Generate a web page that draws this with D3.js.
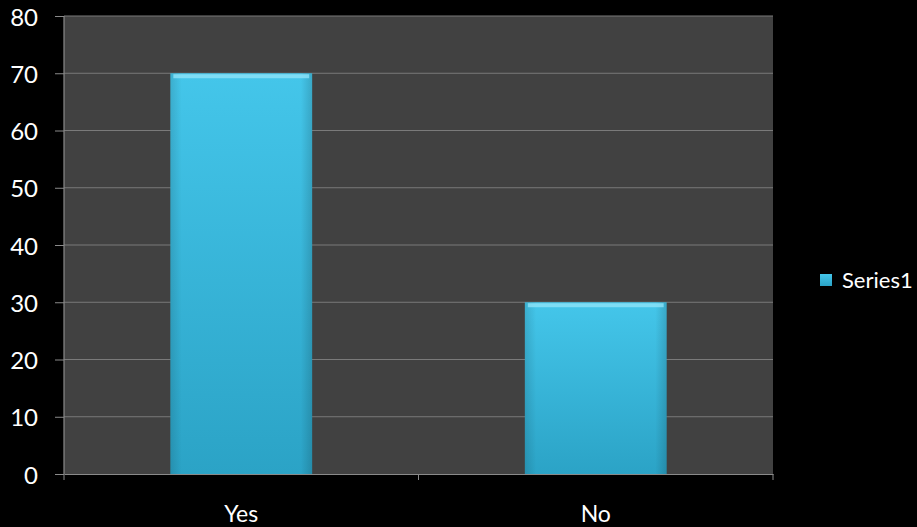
<!DOCTYPE html>
<html><head><meta charset="utf-8">
<script src="https://cdn.jsdelivr.net/npm/d3@7"></script>
<style>body{margin:0;background:#000;}svg{display:block;}</style>
</head><body>
<script>
const categories = ["Yes", "No"];
const series1 = [70, 30];
const yTicks = [0, 10, 20, 30, 40, 50, 60, 70, 80];
const seriesName = "Series1";

const W = 917, H = 527;
const m = {left: 64, right: 144, top: 16, bottom: 53};
const FONT = "Lato, 'Open Sans', sans-serif";
const svg = d3.select("body").append("svg").attr("width", W).attr("height", H);
svg.append("rect").attr("width", W).attr("height", H).attr("fill", "#000");

const defs = svg.append("defs");
const g1 = defs.append("linearGradient").attr("id", "barg").attr("x1", 0).attr("y1", 0).attr("x2", 0).attr("y2", 1);
g1.append("stop").attr("offset", "0%").attr("stop-color", "#44c6ea");
g1.append("stop").attr("offset", "100%").attr("stop-color", "#2ba3c6");
const g2 = defs.append("linearGradient").attr("id", "barh").attr("x1", 0).attr("y1", 0).attr("x2", 1).attr("y2", 0);
g2.append("stop").attr("offset", "0%").attr("stop-color", "#000").attr("stop-opacity", 0.12);
g2.append("stop").attr("offset", "8%").attr("stop-color", "#000").attr("stop-opacity", 0);
g2.append("stop").attr("offset", "92%").attr("stop-color", "#000").attr("stop-opacity", 0);
g2.append("stop").attr("offset", "100%").attr("stop-color", "#000").attr("stop-opacity", 0.15);

const x = d3.scaleBand().domain(categories).range([m.left, W - m.right]).paddingInner(0.6).paddingOuter(0.3);
const y = d3.scaleLinear().domain([0, 80]).range([H - m.bottom, m.top]);

svg.append("rect").attr("x", m.left).attr("y", m.top)
  .attr("width", W - m.right - m.left).attr("height", H - m.bottom - m.top).attr("fill", "#414141");

svg.append("g").selectAll("line").data(yTicks.slice(1)).join("line")
  .attr("x1", m.left).attr("x2", W - m.right)
  .attr("y1", d => y(d)).attr("y2", d => y(d))
  .attr("stroke", "#7a7a7a").attr("stroke-width", 1.2);

const bars = svg.append("g").selectAll("g").data(categories).join("g");
bars.append("rect")
  .attr("x", d => x(d)).attr("width", x.bandwidth())
  .attr("y", (d, i) => y(series1[i])).attr("height", (d, i) => y(0) - y(series1[i]))
  .attr("fill", "url(#barg)");
bars.append("rect")
  .attr("x", d => x(d)).attr("width", x.bandwidth())
  .attr("y", (d, i) => y(series1[i])).attr("height", (d, i) => y(0) - y(series1[i]))
  .attr("fill", "url(#barh)");
bars.append("rect")
  .attr("x", d => x(d) + 3).attr("width", x.bandwidth() - 6)
  .attr("y", (d, i) => y(series1[i]) + 1).attr("height", 4)
  .attr("fill", "#8ee2f7").attr("opacity", 0.8);

// y axis
const ya = svg.append("g").attr("transform", `translate(${m.left},0)`)
  .call(d3.axisLeft(y).tickValues(yTicks).tickSize(9).tickPadding(17).tickFormat(d3.format("d")));
ya.select(".domain").attr("stroke", "#8a8a8a").attr("stroke-width", 1.2).attr("d", `M0,${m.top}V${H - m.bottom}`);
ya.selectAll(".tick line").attr("stroke", "#8a8a8a");
ya.selectAll("text").attr("fill", "#fff").attr("font-family", FONT)
  .attr("font-size", 24).attr("dy", "0.38em");

// x axis
const xa = svg.append("g").attr("transform", `translate(0,${H - m.bottom})`)
  .call(d3.axisBottom(x).tickSize(0).tickPadding(32));
xa.select(".domain").attr("stroke", "#8a8a8a").attr("stroke-width", 1.2);
xa.selectAll("text").attr("fill", "#fff").attr("font-family", FONT).attr("font-size", 23);
const bnd = [m.left, m.left + (W - m.right - m.left) / 2, W - m.right];
xa.append("g").selectAll("line").data(bnd).join("line")
  .attr("x1", d => d).attr("x2", d => d).attr("y1", 0).attr("y2", 6)
  .attr("stroke", "#8a8a8a");

// legend
const lg = svg.append("g").attr("transform", `translate(820,280)`);
lg.append("rect").attr("x", 0).attr("y", -6).attr("width", 12).attr("height", 12).attr("fill", "url(#barg)");
lg.append("text").attr("x", 22).attr("y", 0).attr("dy", "0.36em").attr("fill", "#fff")
  .attr("font-family", FONT).attr("font-size", 22).text(seriesName);
</script>
</body></html>
